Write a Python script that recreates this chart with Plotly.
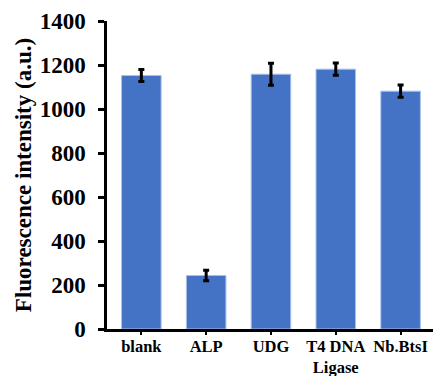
import plotly.graph_objects as go

categories = ["blank", "ALP", "UDG", "T4 DNA<br>Ligase", "Nb.BtsI"]
values = [1152, 243, 1158, 1181, 1081]
errors = [27, 24, 50, 28, 28]
y_ticks = [0, 200, 400, 600, 800, 1000, 1200, 1400]

fig = go.Figure(go.Bar(
    x=categories, y=values,
    marker=dict(color="#4472C4", line=dict(color="#A9BFE6", width=1)),
    width=0.61,
    error_y=dict(type="data", array=errors, color="black", thickness=3, width=3),
))

font_family = "Liberation Serif, Times New Roman, serif"
fig.update_layout(
    width=433, height=376,
    margin=dict(l=107, r=0, t=21, b=47),
    plot_bgcolor="white", paper_bgcolor="white",
    showlegend=False,
    font=dict(family=font_family, color="black"),
)
fig.update_xaxes(
    range=[-0.53, 4.5], automargin=False,
    showline=True, linecolor="black", linewidth=2.5,
    ticks="outside", ticklen=3, tickwidth=2, tickcolor="black",
    tickfont=dict(size=16.5, family=font_family, weight="bold"),
    ticklabelstandoff=-3,
    showgrid=False,
)
fig.update_yaxes(
    range=[0, 1400], tickvals=y_ticks, automargin=False,
    showline=True, linecolor="black", linewidth=2.5,
    ticks="outside", ticklen=6, tickwidth=2.5, tickcolor="black",
    tickfont=dict(size=23, family=font_family, weight="bold"),
    ticklabelstandoff=8,
    showgrid=False, zeroline=False,
    title=dict(text="Fluorescence intensity (a.u.)", font=dict(size=23, family=font_family, weight="bold"), standoff=2),
)
fig.write_html("out.html")
